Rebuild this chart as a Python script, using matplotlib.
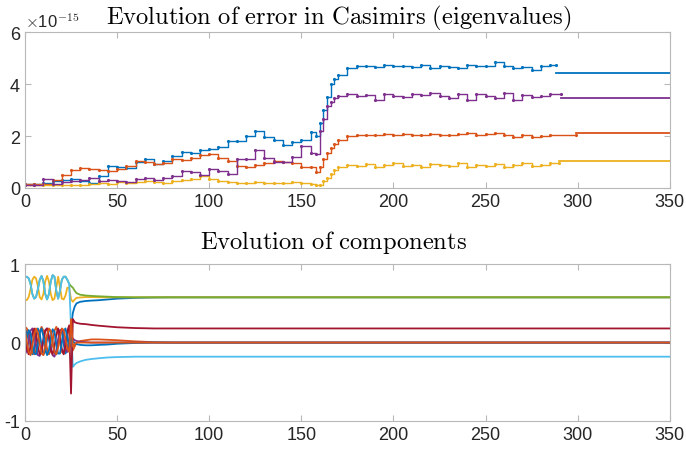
import matplotlib
matplotlib.use("Agg")
import matplotlib.pyplot as plt
import numpy as np

plt.rcParams["font.family"] = ["Liberation Sans", "DejaVu Sans"]
plt.rcParams["mathtext.fontset"] = "cm"
plt.rcParams["axes.unicode_minus"] = False

# MATLAB default colour order
C_BLUE, C_ORANGE, C_YELLOW, C_PURPLE = "#0072BD", "#D95319", "#EDB120", "#7E2F8E"
C_GREEN, C_LBLUE, C_DRED = "#77AC30", "#4DBEEE", "#A2142F"

# ---------------- top panel: Casimir errors (units of 1e-15) ----------------
x_top = list(range(0, 160, 5)) + [158, 160, 162, 164, 166, 168, 170] + list(range(175, 290, 5))

err_blue = [0.15, 0.15, 0.2, 0.28, 0.3, 0.35, 0.25, 0.2, 0.45, 0.85, 0.8, 0.75, 1.0, 1.1, 0.92, 1.05,
            1.22, 1.4, 1.35, 1.45, 1.5, 1.58, 1.8, 1.82, 2.0, 2.2, 1.95, 1.85, 1.65, 1.75, 1.85, 2.15,
            2.0, 2.5, 3.0, 3.5, 4.0, 4.2, 4.35,
            4.6, 4.68, 4.7, 4.65, 4.72, 4.68, 4.7, 4.65, 4.72, 4.62, 4.7, 4.66, 4.6, 4.72, 4.68, 4.7,
            4.85, 4.7, 4.6, 4.65, 4.55, 4.7, 4.72]
err_orange = [0.15, 0.15, 0.15, 0.3, 0.5, 0.68, 0.78, 0.72, 0.68, 0.65, 0.72, 0.85, 1.05, 1.0, 0.92, 0.98,
              1.1, 1.08, 1.15, 1.25, 1.3, 1.15, 1.05, 0.85, 0.8, 0.9, 0.95, 1.05, 1.0, 0.95, 0.82, 0.8,
              0.6, 0.8, 1.1, 1.35, 1.55, 1.7, 1.85,
              2.0, 2.03, 2.05, 2.02, 2.06, 2.04, 2.07, 2.05, 2.03, 2.08, 2.05, 2.04, 2.06, 2.1, 2.05, 2.08,
              2.1, 2.05, 1.98, 2.02, 1.95, 2.0, 2.02]
err_yellow = [0.1, 0.1, 0.12, 0.1, 0.1, 0.12, 0.1, 0.15, 0.18, 0.15, 0.22, 0.2, 0.22, 0.25, 0.22, 0.2,
              0.28, 0.3, 0.35, 0.47, 0.34, 0.28, 0.22, 0.2, 0.2, 0.22, 0.18, 0.2, 0.2, 0.22, 0.18, 0.15,
              0.1, 0.12, 0.25, 0.4, 0.55, 0.7, 0.8,
              0.88, 0.85, 0.92, 0.8, 0.9, 0.95, 0.85, 0.88, 0.8, 0.92, 0.9, 0.85, 0.95, 0.82, 0.9, 0.85,
              0.92, 0.8, 0.88, 0.95, 0.85, 0.9, 0.95]
err_purple = [0.1, 0.12, 0.35, 0.15, 0.22, 0.25, 0.3, 0.4, 0.25, 0.3, 0.25, 0.22, 0.35, 0.4, 0.3, 0.38,
              0.45, 0.66, 0.6, 0.5, 0.72, 0.65, 0.55, 1.1, 1.12, 1.45, 1.15, 1.0, 1.0, 1.2, 1.6, 1.35,
              1.3, 2.2, 2.64, 3.15, 3.3, 3.45, 3.55,
              3.6, 3.55, 3.58, 3.4, 3.62, 3.55, 3.5, 3.6, 3.58, 3.65, 3.55, 3.45, 3.6, 3.38, 3.62, 3.55,
              3.48, 3.65, 3.4, 3.58, 3.5, 3.55, 3.62]

top_series = [err_blue, err_orange, err_yellow, err_purple]
top_colors = [C_BLUE, C_ORANGE, C_YELLOW, C_PURPLE]
flat_start = [288, 299, 290, 291]
flat_value = [4.43, 2.1, 1.05, 3.45]
x_end = 350

# ---------------- bottom panel: components ----------------
x_bot = list(range(0, 25)) + [25, 26, 27, 28, 30, 33, 36, 40, 45, 50, 60, 70, 80, 100, 350]

comp_blue = [0.0, 0.15, 0.12, -0.05, -0.15, -0.1, 0.08, 0.18, 0.12, -0.04, -0.15, -0.12, 0.04, 0.16, 0.15,
             0.0, -0.13, -0.15, 0.0, 0.16, 0.14, -0.02, -0.14, -0.08, 0.05,
             0.2, 0.38, 0.46, 0.5, 0.52, 0.53, 0.535, 0.54, 0.55, 0.56, 0.57, 0.575, 0.577, 0.577, 0.577]
comp_orange = [0.2, 0.18, 0.1, -0.02, -0.12, -0.15, -0.1, 0.02, 0.14, 0.2, 0.15, 0.05, -0.08, -0.15, -0.1,
               0.02, 0.15, 0.2, 0.12, 0.0, -0.12, -0.14, -0.05, 0.1, 0.2,
               -0.05, -0.1, -0.05, 0.0, 0.02, 0.03, 0.04, 0.04, 0.035, 0.03, 0.015, 0.005, 0.0, 0.0, 0.0]
comp_yellow = [0.55, 0.54, 0.58, 0.68, 0.8, 0.84, 0.82, 0.72, 0.58, 0.55, 0.62, 0.78, 0.85, 0.78, 0.62,
               0.54, 0.56, 0.7, 0.84, 0.7, 0.56, 0.55, 0.6, 0.7, 0.7,
               0.55, 0.52, 0.55, 0.57, 0.575, 0.58, 0.58, 0.578, 0.577, 0.577, 0.577, 0.577, 0.577, 0.577, 0.577]
comp_purple = [-0.15, -0.1, 0.02, 0.15, 0.18, 0.1, -0.05, -0.16, -0.17, -0.08, 0.05, 0.16, 0.18, 0.08, -0.06,
               -0.16, -0.18, -0.1, 0.04, 0.15, 0.17, 0.06, -0.08, -0.12, 0.0,
               0.08, 0.05, 0.03, 0.02, 0.01, 0.005, 0.0, 0.0, 0.0, 0.0, 0.0, 0.0, 0.0, 0.0, 0.0]
comp_lblue = [0.83, 0.84, 0.82, 0.75, 0.62, 0.56, 0.58, 0.68, 0.8, 0.85, 0.78, 0.62, 0.55, 0.62, 0.78,
              0.86, 0.84, 0.66, 0.56, 0.66, 0.8, 0.84, 0.84, 0.8, 0.75,
              0.2, -0.31, -0.28, -0.26, -0.24, -0.22, -0.21, -0.2, -0.19, -0.185, -0.18, -0.18, -0.18, -0.18, -0.18]
comp_green = comp_lblue[:25] + [0.72, 0.7, 0.66, 0.63, 0.61, 0.6, 0.595, 0.59, 0.585, 0.58, 0.577,
                                0.577, 0.577, 0.577, 0.577]
comp_dred = [0.05, -0.08, -0.15, -0.05, 0.12, 0.18, 0.1, -0.05, -0.15, -0.12, 0.02, 0.15, 0.18, 0.06, -0.1,
             -0.15, -0.05, 0.1, 0.18, 0.08, -0.08, -0.15, -0.02, 0.15, 0.22,
             -0.65, 0.3, 0.26, 0.25, 0.24, 0.235, 0.225, 0.215, 0.205, 0.195, 0.185, 0.18, 0.18, 0.18, 0.18]
comp_blue2 = [-0.05, 0.05, 0.16, 0.12, -0.02, -0.14, -0.15, -0.02, 0.12, 0.18, 0.08, -0.08, -0.16, -0.1, 0.06,
              0.17, 0.14, -0.02, -0.14, -0.14, 0.0, 0.15, 0.18, 0.05, -0.05,
              0.05, 0.02, -0.01, -0.02, -0.03, -0.035, -0.035, -0.03, -0.025, -0.015, -0.005, 0.0, 0.0, 0.0, 0.0]
comp_orange2 = [0.15, 0.02, -0.12, -0.16, -0.05, 0.1, 0.18, 0.12, -0.02, -0.14, -0.16, -0.04, 0.1, 0.18, 0.15,
                0.0, -0.12, -0.15, -0.06, 0.08, 0.18, 0.16, 0.04, -0.08, -0.12,
                0.3, -0.05, -0.02, 0.0, 0.0, 0.0, 0.0, 0.0, 0.0, 0.0, 0.0, 0.0, 0.0, 0.0, 0.0]

bot_series = [comp_blue, comp_orange, comp_yellow, comp_purple, comp_green,
              comp_lblue, comp_dred, comp_blue2, comp_orange2]
bot_colors = [C_BLUE, C_ORANGE, C_YELLOW, C_PURPLE, C_GREEN, C_LBLUE, C_DRED, C_BLUE, C_ORANGE]


def style_axes(ax):
    for s in ax.spines.values():
        s.set_color("#b8b8b8")
        s.set_linewidth(0.8)
    ax.tick_params(direction="in", length=4, color="#b8b8b8", labelcolor="#262626",
                   labelsize=13, top=True, right=True, pad=3.5)
    ax.set_xlim(0, 350)
    ax.set_xticks(range(0, 351, 50))


fig = plt.figure(figsize=(6.86, 4.52), dpi=100)
ax1 = fig.add_axes([0.0364, 0.5819, 0.940, 0.345])
ax2 = fig.add_axes([0.0364, 0.0664, 0.940, 0.347])

# top
for y, c, xs, fv in zip(top_series, top_colors, flat_start, flat_value):
    ax1.plot(x_top + [xs], y + [y[-1]], color=c, lw=1.0, drawstyle="steps-post",
             marker=".", ms=2.5)
    ax1.plot([xs, x_end], [fv, fv], color=c, lw=1.3)
style_axes(ax1)
ax1.set_ylim(0, 6)
ax1.set_yticks([0, 2, 4, 6])
ax1.text(0.0, 1.015, r"$\times$10$^{-15}$", transform=ax1.transAxes, fontsize=12,
         color="#262626", ha="left", va="bottom")
ax1.set_title(r"$\mathrm{Evolution\ of\ error\ in\ Casimirs\ (eigenvalues)}$", fontsize=17.7,
              pad=6.5, x=0.487)

# bottom
for y, c in zip(bot_series, bot_colors):
    ax2.plot(x_bot, y, color=c, lw=1.3)
style_axes(ax2)
ax2.set_ylim(-1, 1)
ax2.set_yticks([-1, 0, 1])
ax2.set_title(r"$\mathrm{Evolution\ of\ components}$", fontsize=17.7, pad=11.5, x=0.478)

fig.savefig("out.png", dpi=100)
